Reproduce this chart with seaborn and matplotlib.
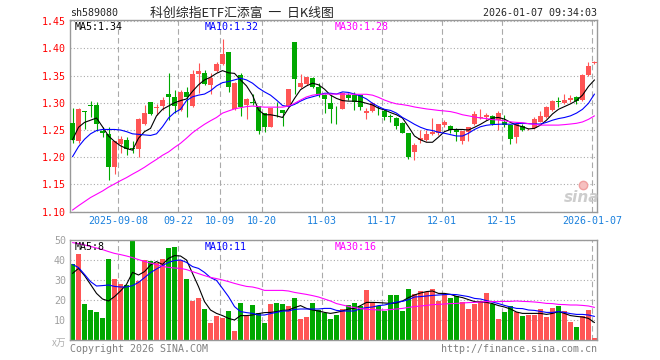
import numpy as np
import pandas as pd
import matplotlib
matplotlib.use("Agg")
import matplotlib.pyplot as plt
from matplotlib.lines import Line2D
import seaborn as sns

# ---- data (one entry per trading day, 2025-08-27 .. 2026-01-07)
opens = [1.263, 1.229, 1.285, 1.296, 1.296, 1.249, 1.243, 1.182, 1.224, 1.232,
         1.2165, 1.2146, 1.261, 1.3015, 1.290, 1.295, 1.316, 1.310, 1.287, 1.319,
         1.294, 1.353, 1.354, 1.332, 1.359, 1.371, 1.393, 1.288, 1.351, 1.296,
         1.301, 1.294, 1.282, 1.256, 1.289, 1.287, 1.293, 1.4116, 1.3296, 1.3345,
         1.345, 1.3284, 1.3143, 1.299, 1.289, 1.2886, 1.3143, 1.314, 1.314, 1.282,
         1.284, 1.2874, 1.284, 1.275, 1.2727, 1.262, 1.244, 1.210, 1.2317, 1.2317,
         1.2427, 1.245, 1.259, 1.258, 1.2513, 1.2305, 1.247, 1.261, 1.2715, 1.2733,
         1.2764, 1.268, 1.2654, 1.2586, 1.238, 1.2574, 1.2513, 1.253, 1.2654, 1.2733,
         1.2868, 1.3033, 1.300, 1.305, 1.310, 1.305, 1.351, 1.3725]
highs = [1.290, 1.290, 1.285, 1.303, 1.302, 1.256, 1.255, 1.229, 1.239, 1.238,
         1.230, 1.2727, 1.296, 1.302, 1.298, 1.311, 1.354, 1.3235, 1.3235, 1.3296,
         1.361, 1.3725, 1.361, 1.354, 1.3755, 1.4165, 1.393, 1.339, 1.354, 1.308,
         1.316, 1.294, 1.282, 1.291, 1.302, 1.287, 1.325, 1.412, 1.353, 1.348,
         1.348, 1.336, 1.317, 1.314, 1.294, 1.320, 1.3186, 1.320, 1.314, 1.290,
         1.302, 1.294, 1.288, 1.279, 1.273, 1.265, 1.245, 1.2256, 1.250, 1.250,
         1.2715, 1.261, 1.268, 1.259, 1.253, 1.248, 1.256, 1.2856, 1.2886, 1.281,
         1.2776, 1.285, 1.2776, 1.259, 1.262, 1.2605, 1.253, 1.273, 1.285, 1.294,
         1.305, 1.311, 1.316, 1.314, 1.3125, 1.352, 1.374, 1.377]
lows = [1.226, 1.227, 1.252, 1.273, 1.249, 1.238, 1.158, 1.169, 1.208, 1.204,
        1.207, 1.200, 1.259, 1.278, 1.278, 1.287, 1.268, 1.281, 1.284, 1.2745,
        1.292, 1.3174, 1.333, 1.317, 1.357, 1.369, 1.320, 1.287, 1.276, 1.2696,
        1.296, 1.243, 1.247, 1.255, 1.2745, 1.257, 1.292, 1.317, 1.328, 1.333,
        1.3266, 1.311, 1.281, 1.262, 1.261, 1.288, 1.305, 1.287, 1.287, 1.270,
        1.2825, 1.278, 1.268, 1.265, 1.252, 1.244, 1.196, 1.195, 1.2256, 1.2305,
        1.241, 1.241, 1.256, 1.244, 1.229, 1.224, 1.229, 1.259, 1.2696, 1.268,
        1.259, 1.250, 1.256, 1.224, 1.227, 1.249, 1.250, 1.252, 1.264, 1.2715,
        1.2856, 1.292, 1.298, 1.302, 1.298, 1.304, 1.350, 1.371]
closes = [1.232, 1.289, 1.2825, 1.295, 1.261, 1.244, 1.1815, 1.229, 1.2335, 1.215,
          1.2146, 1.270, 1.282, 1.279, 1.293, 1.305, 1.311, 1.294, 1.319, 1.311,
          1.353, 1.359, 1.3345, 1.346, 1.371, 1.3896, 1.3296, 1.337, 1.293, 1.307,
          1.2995, 1.249, 1.256, 1.291, 1.288, 1.282, 1.3247, 1.3437, 1.337, 1.3474,
          1.3296, 1.316, 1.307, 1.2886, 1.288, 1.3186, 1.3094, 1.302, 1.2917, 1.284,
          1.299, 1.286, 1.2745, 1.274, 1.258, 1.245, 1.200, 1.2225, 1.235, 1.242,
          1.2458, 1.2605, 1.265, 1.250, 1.247, 1.248, 1.256, 1.2794, 1.2733, 1.2776,
          1.261, 1.281, 1.259, 1.2335, 1.261, 1.250, 1.2525, 1.2696, 1.2758, 1.2917,
          1.304, 1.301, 1.305, 1.308, 1.303, 1.351, 1.368, 1.3755]

ma5 = [1.232, 1.255, 1.264, 1.268, 1.272, 1.256, 1.239, 1.229, 1.221, 1.216,
       1.213, 1.235, 1.247, 1.253, 1.276, 1.288, 1.294, 1.300, 1.304, 1.307,
       1.321, 1.333, 1.342, 1.347, 1.354, 1.359, 1.355, 1.354, 1.342, 1.331,
       1.314, 1.287, 1.278, 1.278, 1.276, 1.273, 1.290, 1.308, 1.324, 1.331,
       1.336, 1.333, 1.325, 1.314, 1.308, 1.304, 1.303, 1.303, 1.302, 1.299,
       1.296, 1.290, 1.287, 1.282, 1.278, 1.272, 1.256, 1.239, 1.232, 1.2275,
       1.2275, 1.237, 1.247, 1.251, 1.251, 1.251, 1.250, 1.255, 1.2605, 1.267,
       1.272, 1.273, 1.270, 1.264, 1.259, 1.256, 1.252, 1.253, 1.259, 1.268,
       1.2795, 1.288, 1.293, 1.298, 1.304, 1.314, 1.330, 1.342]
ma10 = [1.201, 1.2195, 1.233, 1.243, 1.249, 1.251, 1.251, 1.251, 1.250, 1.247,
        1.243, 1.242, 1.241, 1.240, 1.243, 1.256, 1.272, 1.282, 1.288, 1.304,
        1.311, 1.314, 1.316, 1.322, 1.331, 1.337, 1.339, 1.342, 1.345, 1.342,
        1.336, 1.327, 1.320, 1.314, 1.305, 1.295, 1.293, 1.297, 1.303, 1.308,
        1.311, 1.314, 1.3175, 1.3175, 1.316, 1.320, 1.319, 1.316, 1.3125, 1.307,
        1.299, 1.293, 1.288, 1.286, 1.281, 1.273, 1.267, 1.2605, 1.255, 1.251,
        1.249, 1.246, 1.244, 1.2415, 1.239, 1.239, 1.244, 1.251, 1.256, 1.2587,
        1.260, 1.2605, 1.261, 1.2605, 1.2617, 1.2623, 1.2617, 1.261, 1.261, 1.264,
        1.268, 1.271, 1.273, 1.276, 1.281, 1.288, 1.299, 1.316]
ma30 = [1.103, 1.111, 1.1185, 1.126, 1.132, 1.138, 1.145, 1.151, 1.157, 1.1626,
        1.169, 1.175, 1.1816, 1.189, 1.196, 1.2036, 1.2097, 1.218, 1.2256, 1.235,
        1.245, 1.253, 1.2605, 1.267, 1.273, 1.281, 1.285, 1.2887, 1.291, 1.293,
        1.294, 1.293, 1.292, 1.292, 1.292, 1.292, 1.294, 1.299, 1.305, 1.3107,
        1.314, 1.3156, 1.316, 1.316, 1.316, 1.316, 1.316, 1.3156, 1.3156, 1.3156,
        1.314, 1.310, 1.305, 1.301, 1.298, 1.2966, 1.2948, 1.2923, 1.2905, 1.2887,
        1.2874, 1.286, 1.285, 1.2838, 1.2813, 1.278, 1.276, 1.274, 1.272, 1.271,
        1.269, 1.2684, 1.267, 1.265, 1.264, 1.2635, 1.2617, 1.2605, 1.259, 1.259,
        1.259, 1.259, 1.2599, 1.261, 1.2623, 1.2648, 1.2696, 1.276]

volume = [38.0, 43.0, 18.0, 15.0, 14.0, 11.0, 40.5, 30.5, 28.0, 27.5,
          49.7, 29.7, 40.0, 39.7, 38.7, 40.5, 46.0, 46.5, 40.0, 30.5,
          19.5, 21.0, 15.5, 8.5, 12.0, 11.0, 14.5, 4.5, 18.5, 12.0,
          17.5, 13.5, 8.5, 18.0, 18.5, 18.0, 17.0, 21.0, 10.5, 11.5,
          18.5, 15.0, 13.5, 10.5, 12.5, 15.5, 17.5, 18.5, 17.0, 25.0,
          18.5, 17.0, 14.5, 22.5, 22.5, 14.5, 25.5, 23.0, 24.5, 24.0,
          25.5, 19.5, 23.0, 21.0, 22.2, 18.8, 15.5, 18.0, 19.5, 23.5,
          18.0, 10.5, 14.0, 17.0, 14.0, 12.0, 12.5, 12.5, 15.5, 11.5,
          16.0, 17.0, 14.5, 9.0, 6.5, 12.0, 15.0, 1.0]
vma5 = [33.3, 35.8, 32.2, 27.8, 23.3, 20.5, 19.5, 21.7, 24.5, 27.8,
        33.8, 32.5, 34.2, 37.5, 39.2, 37.8, 40.8, 42.2, 42.0, 40.0,
        33.3, 26.7, 19.2, 15.0, 13.3, 12.2, 10.8, 10.0, 12.2, 12.2,
        12.5, 13.2, 13.7, 13.8, 14.2, 14.8, 15.0, 16.2, 17.2, 15.8,
        15.0, 14.5, 13.8, 13.3, 13.8, 14.5, 15.5, 15.8, 17.2, 18.8,
        18.8, 18.7, 18.5, 18.3, 18.5, 19.5, 21.2, 22.5, 23.5, 24.2,
        24.5, 23.3, 23.3, 22.8, 21.8, 21.2, 20.2, 19.2, 19.0, 18.8,
        18.2, 17.2, 16.5, 15.5, 14.0, 13.3, 13.3, 13.3, 13.3, 12.8,
        13.3, 14.2, 13.3, 12.2, 11.8, 11.5, 10.8, 8.7]
vma10 = [37.8, 36.2, 32.8, 29.2, 27.0, 27.2, 27.5, 26.8, 26.5, 26.5,
         27.2, 28.8, 31.2, 33.7, 35.5, 37.2, 38.8, 39.7, 40.0, 38.8,
         36.7, 35.8, 33.8, 31.2, 29.8, 25.8, 21.7, 16.7, 14.2, 13.7,
         13.3, 12.5, 12.5, 13.2, 13.8, 14.5, 14.5, 15.3, 15.5, 15.5,
         15.5, 15.5, 15.8, 15.8, 14.8, 14.5, 14.5, 14.5, 15.7, 16.2,
         16.5, 17.2, 17.5, 18.2, 19.0, 19.3, 20.2, 21.5, 21.7, 22.0,
         22.3, 22.5, 22.7, 22.8, 22.7, 22.2, 21.7, 20.8, 20.5, 19.7,
         19.0, 18.2, 17.3, 16.5, 15.8, 15.7, 15.0, 14.8, 14.3, 13.8,
         13.8, 14.2, 13.8, 13.2, 12.8, 12.8, 12.5, 11.8]
vma30 = [48.7, 48.2, 47.5, 46.8, 46.0, 45.2, 44.2, 43.3, 42.7, 42.0,
         41.2, 40.2, 39.3, 38.5, 37.7, 36.8, 36.3, 36.0, 35.8, 35.2,
         34.2, 33.2, 32.2, 31.3, 30.7, 30.0, 29.2, 28.3, 27.5, 26.8,
         26.5, 25.8, 24.8, 24.8, 24.8, 24.8, 24.5, 23.8, 23.3, 22.8,
         22.2, 21.5, 20.5, 19.5, 18.2, 17.5, 16.8, 16.2, 15.7, 15.3,
         15.2, 15.0, 15.0, 15.2, 15.5, 15.8, 16.3, 16.7, 17.0, 17.3,
         17.7, 17.8, 18.0, 18.2, 18.3, 18.5, 18.7, 18.8, 19.0, 19.2,
         19.2, 19.2, 19.3, 19.3, 19.5, 19.3, 19.2, 19.0, 18.7, 18.3,
         18.2, 17.8, 17.7, 17.5, 17.5, 17.3, 17.0, 16.3]

date_pos = [8, 18, 25, 32, 42, 52, 62, 72, 87]
date_labels = ["2025-09-08", "09-22", "10-09", "10-20", "11-03",
               "11-17", "12-01", "12-15", "2026-01-07"]
price_ticks = [1.10, 1.15, 1.20, 1.25, 1.30, 1.35, 1.40, 1.45]
vol_ticks = [10, 20, 30, 40, 50]

df = pd.DataFrame({"o": opens, "h": highs, "l": lows, "c": closes, "v": volume,
                   "ma5": ma5, "ma10": ma10, "ma30": ma30,
                   "vma5": vma5, "vma10": vma10, "vma30": vma30})
df["i"] = np.arange(len(df))

RED = "#ff5555"
GREEN = "#00a800"
GRID = "#aaaaaa"
FRAME = "#999999"
LW = 0.8
colors = [RED if c >= o else GREEN for o, c in zip(df.o, df.c)]

sns.set_style("white")
plt.rcParams["font.family"] = ["DejaVu Sans Mono", "Noto Sans CJK SC"]

fig = plt.figure(figsize=(6.6, 3.6), dpi=100)
W, H = 660, 360
ax = fig.add_axes([70 / W, 1 - 211.7 / H, 527 / W, 191.7 / H])
axv = fig.add_axes([70 / W, 1 - 340 / H, 527 / W, 100 / H])

grid_x = [p - 0.4 for p in date_pos]
for a in (ax, axv):
    a.set_xlim(-0.42, 87.42)
    a.set_axisbelow(True)
    for s in a.spines.values():
        s.set_color(FRAME)
        s.set_linewidth(1)
    a.set_xticks(grid_x)
    a.grid(axis="x", color=GRID, linestyle=(0, (5, 3)), linewidth=LW)
    a.grid(axis="y", color=GRID, linestyle=(0, (1, 2)), linewidth=LW)
    a.tick_params(length=0, pad=3, labelsize=7.2)

# candles
body_low = np.minimum(df.o, df.c)
body_h = np.maximum(np.abs(df.c - df.o), 0.0008)
ax.vlines(df.i, df.l, df.h, colors=colors, linewidth=LW, zorder=2)
ax.bar(df.i, body_h, bottom=body_low, width=0.82, color=colors, linewidth=0, zorder=3)
sns.lineplot(data=df, x="i", y="ma5", ax=ax, color="black", linewidth=LW, zorder=4)
sns.lineplot(data=df, x="i", y="ma10", ax=ax, color="#0000ff", linewidth=LW, zorder=4)
sns.lineplot(data=df, x="i", y="ma30", ax=ax, color="#ff00ff", linewidth=LW, zorder=4)
ax.set_ylim(1.10, 1.452)
ax.set_yticks(price_ticks)
ax.set_yticklabels([f"{t:.2f}" for t in price_ticks], color="red")
ax.set_xticklabels(date_labels, color="#1a80dd")
ax.set_xlabel("")
ax.set_ylabel("")

# volume
axv.bar(df.i, df.v, width=0.85, color=colors, linewidth=0, zorder=2)
sns.lineplot(data=df, x="i", y="vma5", ax=axv, color="black", linewidth=LW, zorder=4)
sns.lineplot(data=df, x="i", y="vma10", ax=axv, color="#0000ff", linewidth=LW, zorder=4)
sns.lineplot(data=df, x="i", y="vma30", ax=axv, color="#ff00ff", linewidth=LW, zorder=4)
axv.set_ylim(0, 50)
axv.set_yticks(vol_ticks)
axv.set_yticklabels([str(t) for t in vol_ticks], color="#a0a0a0")
axv.set_xticklabels([])
axv.set_xlabel("")
axv.set_ylabel("")


def ftext(x, y, s, **kw):
    fig.text(x / W, 1 - y / H, s, **kw)


ftext(70, 13, "sh589080", fontsize=7.2, va="center", ha="left")
ftext(150, 13, "科创综指ETF汇添富  一  日K线图", fontsize=9.3, va="center", ha="left",
      family=["Noto Sans CJK SC", "DejaVu Sans"])
ftext(597, 13, "2026-01-07 09:34:03", fontsize=7.2, va="center", ha="right")

ftext(75, 27, f"MA5:{ma5[-1]:.2f}", fontsize=7.2, va="center", color="black")
ftext(205, 27, f"MA10:{ma10[-1]:.2f}", fontsize=7.2, va="center", color="#0000ff")
ftext(335, 27, f"MA30:{ma30[-1]:.2f}", fontsize=7.2, va="center", color="#ff00ff")
ftext(75, 247, f"MA5:{int(vma5[-1])}", fontsize=7.2, va="center", color="black")
ftext(205, 247, f"MA10:{int(vma10[-1])}", fontsize=7.2, va="center", color="#0000ff")
ftext(335, 247, f"MA30:{int(vma30[-1])}", fontsize=7.2, va="center", color="#ff00ff")

ftext(66, 343, "x万", fontsize=7, va="center", ha="right", color="#b0b0b0",
      family=["Noto Sans CJK SC", "DejaVu Sans"], style="italic")
ftext(70, 349, "Copyright 2026 SINA.COM", fontsize=7.2, va="center", ha="left", color="#808080")
ftext(597, 349, "http://finance.sina.com.cn", fontsize=7.2, va="center", ha="right", color="#808080")

# watermark: small pink eye mark plus the "sina" word
fig.add_artist(Line2D([583 / W], [1 - 185 / H], transform=fig.transFigure, marker="o",
                      markersize=6, markerfacecolor="#f6c0c0", markeredgecolor="#f0a0a0",
                      linestyle="none"))
ftext(582, 197, "sina", fontsize=11, va="center", ha="center", color="#c8c8c8",
      family="DejaVu Sans", fontweight="bold", style="italic", alpha=0.9)

fig.savefig("out.png", dpi=100)
